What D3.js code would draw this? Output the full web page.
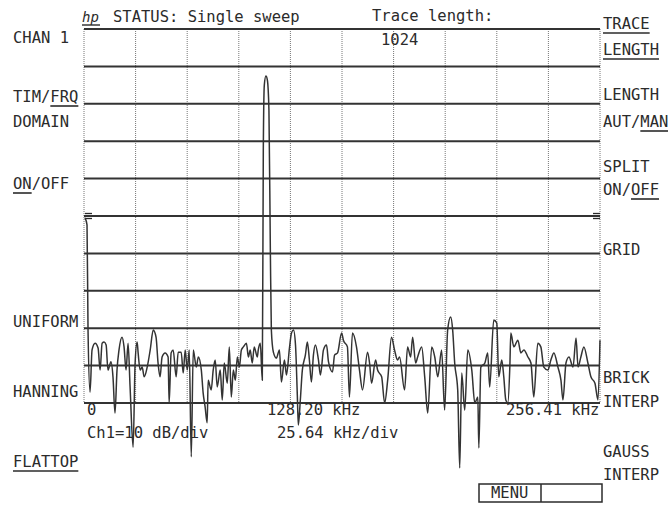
<!DOCTYPE html>
<html>
<head>
<meta charset="utf-8">
<script src="https://cdn.jsdelivr.net/npm/d3@7/dist/d3.min.js"></script>
<style>
  html, body { margin: 0; padding: 0; background: #fff; }
  svg text { font-family: "DejaVu Sans Mono", "Liberation Mono", monospace; font-size: 15.5px; fill: #2b2b2b; }
</style>
</head>
<body>
<svg id="chart" width="668" height="505"></svg>
<script>
// Spectrum trace: frequency (kHz) and level (dB), one entry per vertex
const traceFreqKHz = [
  0.5, 1.5, 2.0, 3.0, 4.0, 5.5, 7.0, 8.0, 9.0, 10.0, 11.0, 11.9, 13.4, 14.4, 15.4, 16.4, 17.4, 18.9, 19.9, 20.9,
  21.9, 22.9, 24.4, 25.4, 26.4, 26.9, 27.9, 28.9, 29.9, 31.4, 32.9, 34.4, 35.8, 36.8, 37.8, 38.8, 40.3, 41.8, 42.3, 43.3,
  44.3, 45.8, 46.8, 48.3, 49.3, 50.3, 51.3, 52.3, 53.3, 54.3, 55.8, 56.8, 58.3, 59.2, 60.2, 61.2, 61.7, 63.2, 64.2, 65.2,
  66.2, 67.7, 68.7, 69.7, 71.2, 72.2, 73.2, 74.2, 75.2, 76.2, 77.2, 78.2, 79.2, 80.7, 81.7, 82.6, 83.6, 84.6, 86.1, 86.6,
  87.6, 88.6, 89.1, 89.6, 90.4, 91.1, 91.9, 92.6, 93.1, 94.1, 95.6, 97.1, 98.1, 99.6, 100.6, 102.1, 103.1, 104.1, 105.1, 106.0,
  106.5, 107.5, 108.5, 110.0, 111.0, 112.0, 113.0, 114.0, 115.0, 116.5, 117.5, 119.0, 120.5, 121.5, 123.5, 124.5, 126.0, 128.0, 128.9, 130.9,
  131.9, 133.4, 135.4, 136.9, 138.4, 140.9, 141.9, 142.9, 144.9, 145.9, 147.9, 149.4, 150.9, 152.8, 154.3, 155.8, 156.8, 159.3, 160.8, 162.3,
  163.3, 164.8, 165.8, 167.8, 169.3, 170.8, 172.8, 174.3, 175.8, 177.7, 179.2, 180.7, 182.2, 183.2, 184.2, 185.7, 186.7, 187.7, 189.2, 190.7,
  192.7, 194.2, 195.7, 196.2, 197.2, 199.2, 200.6, 201.6, 203.6, 205.1, 206.1, 207.6, 208.6, 209.6, 210.6, 211.6, 212.1, 213.6, 215.6, 217.1,
  218.6, 220.6, 222.1, 223.5, 225.5, 227.0, 228.5, 230.5, 232.0, 233.5, 235.5, 237.0, 238.0, 239.5, 241.0, 243.0, 244.5, 245.5, 246.9, 248.4,
  250.4, 251.9, 253.9, 255.4, 256.4
];
const traceDb = [
  -50.5, -52.4, -80.5, -97.1, -85.8, -84.0, -85.3, -91.2, -84.0, -83.7, -84.5, -91.2, -89.0, -93.0, -102.7, -91.2, -85.8, -82.4, -85.0, -91.2,
  -84.0, -95.7, -111.8, -89.3, -83.7, -86.6, -91.2, -90.4, -93.0, -90.4, -85.8, -80.5, -82.4, -89.3, -93.0, -87.7, -86.6, -87.7, -100.0, -86.6,
  -85.8, -93.0, -86.4, -86.4, -92.0, -85.8, -91.2, -85.8, -114.4, -85.8, -90.4, -87.7, -91.2, -97.3, -101.1, -105.3, -93.9, -96.5, -91.2, -88.5,
  -95.7, -91.2, -99.2, -89.3, -94.7, -85.0, -98.4, -91.2, -93.9, -87.7, -90.4, -85.8, -85.0, -84.0, -87.7, -85.8, -89.3, -85.0, -87.7, -85.8,
  -84.0, -93.9, -32.4, -15.0, -12.6, -13.6, -21.7, -59.1, -80.5, -86.4, -88.0, -85.8, -94.4, -88.5, -92.5, -85.3, -81.3, -80.5, -84.5, -97.9,
  -105.9, -99.2, -91.2, -87.2, -83.7, -88.5, -94.4, -87.2, -84.5, -88.5, -92.5, -85.8, -84.5, -89.0, -91.7, -87.2, -86.6, -81.3, -83.2, -85.0,
  -98.4, -81.3, -85.0, -91.2, -96.5, -86.4, -89.3, -94.7, -88.5, -91.2, -93.0, -100.0, -93.9, -82.4, -85.8, -88.5, -87.7, -96.5, -85.0, -87.7,
  -82.4, -89.3, -87.7, -85.0, -93.0, -102.7, -85.0, -87.7, -93.0, -85.8, -101.9, -80.5, -77.0, -80.5, -89.3, -96.5, -117.4, -92.0, -101.9, -85.8,
  -91.2, -100.0, -98.4, -112.0, -90.4, -89.3, -86.6, -95.7, -77.8, -78.6, -93.0, -88.5, -93.0, -99.2, -100.0, -90.4, -81.3, -85.0, -83.2, -86.6,
  -85.8, -87.7, -89.3, -98.4, -84.0, -85.0, -90.4, -91.2, -88.5, -86.6, -90.4, -93.9, -99.2, -89.3, -87.7, -90.4, -82.6, -90.4, -87.7, -85.0,
  -89.3, -93.0, -94.7, -99.2, -83.2
];

// Display settings
const spanKHz = 256.41;
const divisions = 10;
const dbPerDiv = 10;
const topDb = 0;
const refDb = -50;

// Header and axis annotations
const statusText = "STATUS: Single sweep";
const traceLenTitle = "Trace length:";
const traceLenValue = "1024";
const freqLabels = ["0", "128.20 kHz", "256.41 kHz"];
const scaleLabels = ["Ch1=10 dB/div", "25.64 kHz/div"];

// Softkey labels: [text, underlined start, underlined end]
const leftKeys = [
  ["CHAN 1", 0, 0], ["TIM/FRQ", 4, 7], ["DOMAIN", 0, 0], ["ON/OFF", 0, 2],
  ["UNIFORM", 0, 0], ["HANNING", 0, 0], ["FLATTOP", 0, 7]
];
const rightKeys = [
  ["TRACE", 0, 5], ["LENGTH", 0, 6], ["LENGTH", 0, 0], ["AUT/MAN", 4, 7],
  ["SPLIT", 0, 0], ["ON/OFF", 3, 6], ["GRID", 0, 0], ["BRICK", 0, 0],
  ["INTERP", 0, 0], ["GAUSS", 0, 0], ["INTERP", 0, 0]
];
const menuLabel = "MENU";

const ink = "#2b2b2b";
const svg = d3.select("#chart");

const x = d3.scaleLinear().domain([0, spanKHz]).range([84, 600]);
const y = d3.scaleLinear().domain([topDb - divisions * dbPerDiv, topDb]).range([403, 29]);

// Grid: dotted verticals, heavy horizontals
const vTicks = d3.range(divisions + 1).map(i => i * spanKHz / divisions);
const hTicks = d3.range(divisions + 1).map(i => topDb - i * dbPerDiv);

svg.append("g").selectAll("line").data(vTicks).join("line")
  .attr("x1", d => x(d)).attr("x2", d => x(d))
  .attr("y1", y(topDb)).attr("y2", y(hTicks[hTicks.length - 1]))
  .attr("stroke", "#777").attr("stroke-width", 1).attr("stroke-dasharray", "1,1");

svg.append("g").selectAll("line").data(hTicks).join("line")
  .attr("x1", x(0)).attr("x2", x(spanKHz))
  .attr("y1", d => y(d)).attr("y2", d => y(d))
  .attr("stroke", "#333").attr("stroke-width", 2);

// Reference level markers
[[x(0) + 1, x(0) + 8], [x(spanKHz) - 7, x(spanKHz)]].forEach(([a, b]) => {
  [-2.5, 2.5].forEach(off => {
    svg.append("line").attr("x1", a).attr("x2", b)
      .attr("y1", y(refDb) + off).attr("y2", y(refDb) + off)
      .attr("stroke", ink).attr("stroke-width", 1.3);
  });
});

// Spectrum trace
const pts = traceFreqKHz.map((f, i) => [f, traceDb[i]]);
svg.append("path")
  .attr("d", d3.line().curve(d3.curveMonotoneX).x(d => x(d[0])).y(d => y(d[1]))(pts))
  .attr("fill", "none").attr("stroke", "#333").attr("stroke-width", 1.5)
  .attr("stroke-linejoin", "round");

// Text helper with optional underline over a character range
function label(str, px, py, u0, u1, anchor) {
  const t = svg.append("text").attr("x", px).attr("y", py).text(str);
  if (anchor) t.attr("text-anchor", anchor);
  if (u1 > u0) {
    const node = t.node();
    const bx = node.getBBox().x;
    const start = u0 > 0 ? node.getSubStringLength(0, u0) : 0;
    const len = node.getSubStringLength(u0, u1 - u0);
    svg.append("line")
      .attr("x1", bx + start).attr("x2", bx + start + len)
      .attr("y1", py + 4).attr("y2", py + 4)
      .attr("stroke", ink).attr("stroke-width", 1.6);
  }
  return t;
}

// Header
svg.append("text").attr("x", 82).attr("y", 22)
  .style("font-style", "italic").style("font-size", "14px").text("hp");
svg.append("line").attr("x1", 82).attr("x2", 100).attr("y1", 25).attr("y2", 25)
  .attr("stroke", ink).attr("stroke-width", 1.4);
label(statusText, 113, 22, 0, 0);
label(traceLenTitle, 372, 21, 0, 0);
label(traceLenValue, 381, 45, 0, 0);

// Frequency and scale annotations
label(freqLabels[0], 87, 415, 0, 0);
label(freqLabels[1], 267, 415, 0, 0);
label(freqLabels[2], 506, 415, 0, 0);
label(scaleLabels[0], 87, 438, 0, 0);
label(scaleLabels[1], 277, 438, 0, 0);

// Softkeys
const leftBase = [43, 102, 127, 189, 327, 397, 467];
leftKeys.forEach((k, i) => label(k[0], 13, leftBase[i], k[1], k[2]));
const rightBase = [29, 55, 100, 127, 172, 195, 255, 383, 407, 457, 480];
rightKeys.forEach((k, i) => label(k[0], 603, rightBase[i], k[1], k[2]));

// Menu box
svg.append("rect").attr("x", 479).attr("y", 484).attr("width", 123).attr("height", 18)
  .attr("fill", "none").attr("stroke", ink).attr("stroke-width", 1.5);
svg.append("line").attr("x1", 541).attr("x2", 541).attr("y1", 484).attr("y2", 502)
  .attr("stroke", ink).attr("stroke-width", 1.5);
label(menuLabel, 491, 498, 0, 0);
</script>
</body>
</html>
